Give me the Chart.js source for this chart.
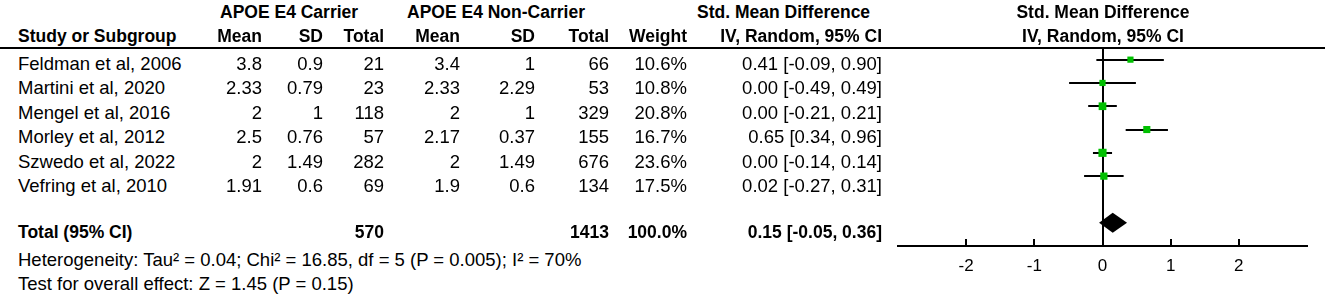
<!DOCTYPE html>
<html>
<head>
<meta charset="utf-8">
<script src="https://cdn.jsdelivr.net/npm/chart.js@4"></script>
<style>
  html, body { margin: 0; padding: 0; background: #fff; }
  body { width: 1325px; height: 296px; position: relative; overflow: hidden;
         font-family: "Liberation Sans", Arial, sans-serif; color: #000; }
  .t { position: absolute; white-space: nowrap; font-size: 18.5px; line-height: 20px; }
  .b { font-weight: bold; font-size: 17.5px; }
  #rule { position: absolute; left: 0; top: 47px; width: 1325px; border-top: 2px solid #000; }
  #plot { position: absolute; left: 880px; top: 0; width: 445px; height: 296px; }
</style>
</head>
<body>
<div id="rule"></div>
<div id="plot"><canvas id="forest" width="445" height="296"></canvas></div>
<script>
// forest plot data (SMD, IV random)
const studies = ['Feldman et al, 2006', 'Martini et al, 2020', 'Mengel et al, 2016',
                 'Morley et al, 2012', 'Szwedo et al, 2022', 'Vefring et al, 2010'];
const carrierMean = [3.8, 2.33, 2, 2.5, 2, 1.91];
const carrierSD = [0.9, 0.79, 1, 0.76, 1.49, 0.6];
const carrierN = [21, 23, 118, 57, 282, 69];
const nonMean = [3.4, 2.33, 2, 2.17, 2, 1.9];
const nonSD = [1, 2.29, 1, 0.37, 1.49, 0.6];
const nonN = [66, 53, 329, 155, 676, 134];
const weights = [10.6, 10.8, 20.8, 16.7, 23.6, 17.5];
const smd = [0.41, 0.00, 0.00, 0.65, 0.00, 0.02];
const ciLow = [-0.09, -0.49, -0.21, 0.34, -0.14, -0.27];
const ciHigh = [0.90, 0.49, 0.21, 0.96, 0.14, 0.31];

const totalCarrierN = 570;
const totalNonN = 1413;
const totalWeight = 100.0;
const pooled = [0.15, -0.05, 0.36]; // estimate, low, high
const pooledRow = 7;

const xTicks = [-2, -1, 0, 1, 2];
const heterogeneity = 'Heterogeneity: Tau\u00b2 = 0.04; Chi\u00b2 = 16.85, df = 5 (P = 0.005); I\u00b2 = 70%';
const overallTest = 'Test for overall effect: Z = 1.45 (P = 0.15)';

// table text
function put(text, x, y, align, bold) {
  const d = document.createElement('div');
  d.className = 't' + (bold ? ' b' : '');
  d.textContent = text;
  d.style.top = (y - 10) + 'px';
  if (align === 'right') d.style.right = (1325 - x) + 'px';
  else if (align === 'center') { d.style.left = x + 'px'; d.style.transform = 'translateX(-50%)'; }
  else d.style.left = x + 'px';
  document.body.appendChild(d);
}
const fmt = v => v.toFixed(2);
const ciText = (e, lo, hi) => fmt(e) + ' [' + fmt(lo) + ', ' + fmt(hi) + ']';

const colRight = [262, 323, 384, 460, 535, 609, 687, 882];

put('APOE E4 Carrier', 220, 11.5, 'left', true);
put('APOE E4 Non-Carrier', 407, 11.5, 'left', true);
put('Std. Mean Difference', 697, 11.5, 'left', true);
put('Std. Mean Difference', 1103, 11.5, 'center', true);

put('Study or Subgroup', 18, 35.5, 'left', true);
['Mean', 'SD', 'Total', 'Mean', 'SD', 'Total', 'Weight', 'IV, Random, 95% CI']
  .forEach((h, k) => put(h, colRight[k], 35.5, 'right', true));
put('IV, Random, 95% CI', 1103, 35.5, 'center', true);

studies.forEach((s, i) => {
  const y = 63.5 + i * 24.5;
  put(s, 18, y, 'left');
  const cells = [carrierMean[i], carrierSD[i], carrierN[i], nonMean[i], nonSD[i], nonN[i],
                 weights[i].toFixed(1) + '%', ciText(smd[i], ciLow[i], ciHigh[i])];
  cells.forEach((c, k) => put(String(c), colRight[k], y, 'right'));
});

put('Total (95% CI)', 18, 232, 'left', true);
put(String(totalCarrierN), colRight[2], 232, 'right', true);
put(String(totalNonN), colRight[5], 232, 'right', true);
put(totalWeight.toFixed(1) + '%', colRight[6], 232, 'right', true);
put(ciText(pooled[0], pooled[1], pooled[2]), colRight[7], 232, 'right', true);

put(heterogeneity, 18, 260, 'left');
put(overallTest, 18, 283.5, 'left');

// whiskers, zero line, diamond and upward tick marks
const forestLines = {
  id: 'forestLines',
  beforeDatasetsDraw(chart) {
    const { ctx, chartArea, scales: { x, y } } = chart;
    ctx.save();
    ctx.strokeStyle = '#000';
    ctx.lineWidth = 2;
    const x0 = Math.round(x.getPixelForValue(0));
    ctx.beginPath();
    ctx.moveTo(x0, chartArea.top);
    ctx.lineTo(x0, chartArea.bottom);
    ctx.stroke();
    smd.forEach((v, i) => {
      const py = Math.round(y.getPixelForValue(i));
      ctx.beginPath();
      ctx.moveTo(x.getPixelForValue(ciLow[i]), py);
      ctx.lineTo(x.getPixelForValue(ciHigh[i]), py);
      ctx.stroke();
    });
    xTicks.forEach(t => {
      const px = Math.round(x.getPixelForValue(t));
      ctx.beginPath();
      ctx.moveTo(px, chartArea.bottom);
      ctx.lineTo(px, chartArea.bottom - 7);
      ctx.stroke();
    });
    const dy = y.getPixelForValue(pooledRow);
    ctx.fillStyle = '#000';
    ctx.beginPath();
    ctx.moveTo(x.getPixelForValue(pooled[1]), dy);
    ctx.lineTo(x.getPixelForValue(pooled[0]), dy - 10);
    ctx.lineTo(x.getPixelForValue(pooled[2]), dy);
    ctx.lineTo(x.getPixelForValue(pooled[0]), dy + 10);
    ctx.closePath();
    ctx.fill();
    ctx.restore();
  }
};

new Chart(document.getElementById('forest'), {
  type: 'scatter',
  data: {
    datasets: [{
      data: smd.map((v, i) => ({ x: v, y: i })),
      pointStyle: 'rect',
      pointRadius: weights.map(w => (4.6 + 0.15 * w) / Math.SQRT2),
      pointHoverRadius: weights.map(w => (4.6 + 0.15 * w) / Math.SQRT2),
      backgroundColor: '#00c000',
      borderColor: '#00c000',
      borderWidth: 0
    }]
  },
  options: {
    responsive: false,
    animation: false,
    devicePixelRatio: 1,
    layout: { padding: { left: 18, right: 18, top: 48, bottom: 9.6 } },
    plugins: { legend: { display: false }, tooltip: { enabled: false } },
    scales: {
      x: {
        type: 'linear',
        min: -3,
        max: 3,
        afterBuildTicks: axis => { axis.ticks = xTicks.map(v => ({ value: v })); },
        grid: { display: false, drawTicks: false },
        border: { display: true, color: '#000', width: 2 },
        ticks: { color: '#000', padding: 10, font: { family: 'Liberation Sans', size: 17 } }
      },
      y: {
        type: 'linear',
        display: false,
        reverse: true,
        min: -0.5,
        max: 8
      }
    }
  },
  plugins: [forestLines]
});
</script>
</body>
</html>
